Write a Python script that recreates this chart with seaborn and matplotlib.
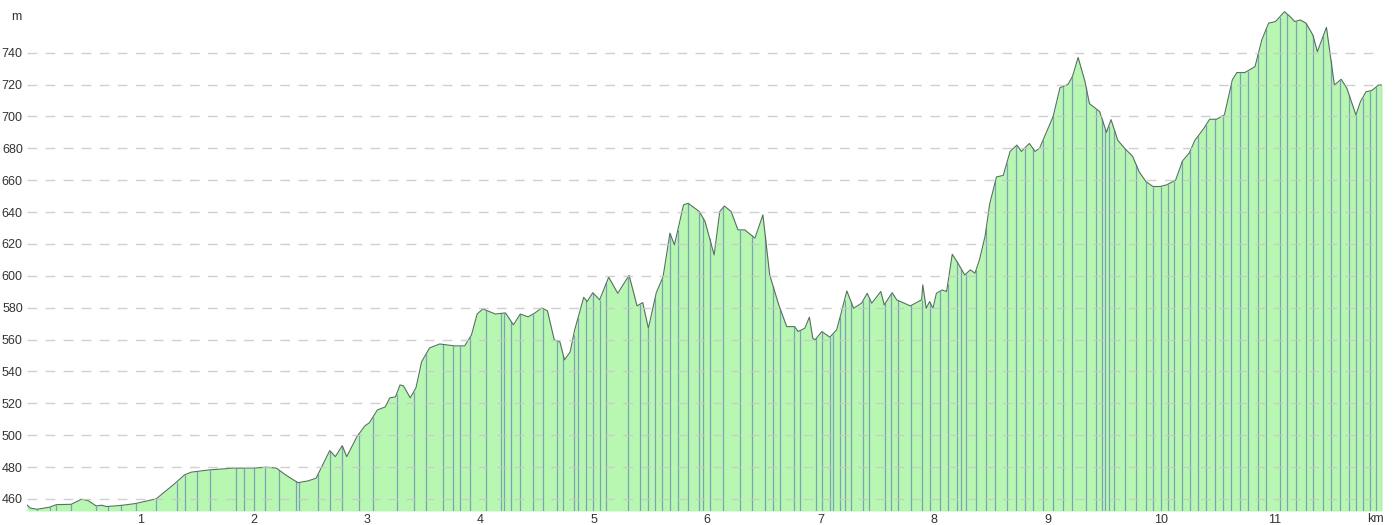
import numpy as np
import matplotlib
matplotlib.use("Agg")
import matplotlib.pyplot as plt
import seaborn as sns

# elevation profile: distance (km) and height (m)
dist_km = [0.00, 0.03, 0.09, 0.20, 0.26, 0.39, 0.48, 0.54, 0.61, 0.66, 0.70, 0.78, 0.84, 0.95,
           1.06, 1.14, 1.20, 1.29, 1.39, 1.45, 1.61, 1.82, 2.00, 2.11, 2.20, 2.28, 2.35, 2.39,
           2.48, 2.55, 2.63, 2.67, 2.72, 2.78, 2.82, 2.91, 2.98, 3.02, 3.09, 3.16, 3.20, 3.25,
           3.29, 3.32, 3.38, 3.43, 3.48, 3.55, 3.64, 3.77, 3.86, 3.92, 3.97, 4.02, 4.13, 4.22,
           4.29, 4.35, 4.42, 4.48, 4.54, 4.59, 4.65, 4.70, 4.74, 4.79, 4.83, 4.91, 4.94, 4.99,
           5.05, 5.13, 5.21, 5.31, 5.38, 5.43, 5.48, 5.55, 5.61, 5.67, 5.71, 5.79, 5.83, 5.93,
           5.98, 6.06, 6.11, 6.15, 6.21, 6.27, 6.33, 6.42, 6.49, 6.55, 6.63, 6.70, 6.77, 6.80,
           6.86, 6.90, 6.93, 6.95, 7.01, 7.08, 7.14, 7.18, 7.23, 7.29, 7.36, 7.41, 7.45, 7.53,
           7.56, 7.63, 7.67, 7.79, 7.89, 7.90, 7.93, 7.96, 7.99, 8.02, 8.07, 8.11, 8.16, 8.21,
           8.27, 8.32, 8.36, 8.40, 8.45, 8.49, 8.55, 8.61, 8.67, 8.73, 8.77, 8.84, 8.89, 8.93,
           8.99, 9.05, 9.11, 9.18, 9.22, 9.27, 9.33, 9.37, 9.46, 9.52, 9.56, 9.62, 9.68, 9.75,
           9.81, 9.87, 9.93, 9.99, 10.05, 10.13, 10.19, 10.25, 10.30, 10.38, 10.43, 10.49, 10.56,
           10.63, 10.67, 10.74, 10.83, 10.89, 10.95, 11.01, 11.09, 11.14, 11.18, 11.23, 11.28,
           11.34, 11.38, 11.46, 11.53, 11.59, 11.64, 11.72, 11.76, 11.81, 11.86, 11.92, 11.95]
elev_m = [456.2, 454.2, 453.5, 454.8, 456.4, 456.6, 459.8, 458.9, 455.6, 456.0, 455.2, 455.6, 456.0, 457.0,
          458.7, 460.0, 463.6, 468.8, 475.1, 476.8, 478.2, 479.3, 479.3, 479.9, 479.3, 475.1, 471.9, 470.2,
          471.3, 473.0, 484.5, 490.3, 486.5, 493.4, 486.5, 499.1, 505.8, 507.8, 515.8, 517.7, 523.4, 524.0,
          531.5, 530.9, 523.4, 529.6, 546.0, 554.7, 557.2, 556.0, 556.0, 562.9, 576.0, 579.2, 576.0, 576.7,
          569.2, 576.0, 574.2, 576.7, 579.8, 578.0, 559.8, 558.5, 547.2, 552.2, 566.0, 586.5, 583.8, 589.4,
          584.9, 599.1, 589.0, 600.3, 581.1, 583.2, 567.1, 589.4, 599.5, 626.7, 619.4, 644.5, 645.5, 640.3,
          634.0, 613.1, 640.3, 643.8, 640.3, 628.8, 628.8, 623.6, 638.2, 600.5, 581.7, 568.1, 568.1, 565.0,
          567.1, 574.0, 560.8, 559.8, 565.0, 561.5, 566.0, 576.5, 590.5, 579.6, 582.8, 589.0, 582.8, 590.1,
          581.7, 589.4, 584.9, 581.1, 584.9, 594.3, 579.6, 583.8, 579.6, 589.0, 591.1, 590.1, 613.5, 607.9,
          600.5, 603.7, 601.6, 610.0, 625.0, 645.0, 662.0, 663.0, 678.0, 682.0, 678.0, 683.0, 678.0, 680.0,
          690.0, 700.0, 718.0, 720.0, 725.0, 737.0, 722.0, 708.0, 703.0, 690.0, 698.0, 685.0, 680.0, 675.0,
          665.0, 659.0, 656.0, 656.0, 657.0, 660.0, 672.0, 677.0, 685.0, 692.6, 698.2, 698.2, 700.9,
          722.9, 727.5, 727.5, 731.2, 748.0, 758.5, 759.5, 765.7, 762.6, 759.5, 760.5, 758.5,
          751.1, 740.6, 755.9, 719.7, 723.3, 717.7, 700.9, 709.3, 715.5, 716.2, 719.7, 719.7]

# positions of the track points marked with thin vertical lines (km)
marker_km = [0.09, 0.20, 0.26, 0.39, 0.61, 0.71, 0.83, 0.96, 1.14, 1.32, 1.39, 1.50, 1.61, 1.84,
             1.91, 2.00, 2.10, 2.22, 2.37, 2.40, 2.57, 2.67, 2.78, 2.93, 3.05, 3.26, 3.41, 3.52,
             3.67, 3.76, 3.82, 3.91, 4.05, 4.18, 4.21, 4.27, 4.35, 4.46, 4.55, 4.67, 4.73, 4.82,
             4.86, 4.93, 4.99, 5.05, 5.11, 5.30, 5.41, 5.48, 5.54, 5.60, 5.67, 5.74, 5.83, 5.93,
             5.96, 6.02, 6.14, 6.29, 6.39, 6.51, 6.58, 6.64, 6.76, 6.82, 6.96, 7.01, 7.08, 7.11,
             7.17, 7.21, 7.27, 7.37, 7.43, 7.57, 7.62, 7.68, 7.80, 7.89, 7.96, 8.05, 8.12, 8.20,
             8.24, 8.28, 8.37, 8.46, 8.54, 8.64, 8.72, 8.80, 8.87, 8.96, 9.05, 9.14, 9.22, 9.34,
             9.43, 9.48, 9.51, 9.54, 9.59, 9.68, 9.78, 9.87, 9.93, 10.00, 10.06, 10.12, 10.19,
             10.26, 10.33, 10.40, 10.48, 10.55, 10.62, 10.70, 10.77, 10.86, 10.93, 11.05, 11.11,
             11.19, 11.28, 11.34, 11.43, 11.50, 11.58, 11.66, 11.72, 11.78, 11.84, 11.90]

x_ticks = [1, 2, 3, 4, 5, 6, 7, 8, 9, 10, 11]
y_ticks = [460, 480, 500, 520, 540, 560, 580, 600, 620, 640, 660, 680, 700, 720, 740]

sns.set_theme(style="white")
plt.rcParams['font.family'] = ['Liberation Sans', 'DejaVu Sans']

fig = plt.figure(figsize=(13.93, 5.25), dpi=100)
ax = fig.add_axes([27 / 1393, 14 / 525, 1355 / 1393, 506 / 525])

y_min, y_max = 452.4, 769.9
ax.fill_between(dist_km, y_min, elev_m, color="#b8f7b2", linewidth=0, zorder=1)

# thin vertical lines from the base up to the profile
tops = np.interp(marker_km, dist_km, elev_m)
ax.vlines(marker_km, y_min, tops, color="#7094b4", linewidth=0.9, alpha=0.85, zorder=2)
ax.vlines([dist_km[-1]], y_min, elev_m[-1], color="#b0aab8", linewidth=1.0, zorder=2)

sns.lineplot(x=dist_km, y=elev_m, ax=ax, color="#56705f", linewidth=0.8, zorder=3,
             estimator=None, sort=False)

for yv in y_ticks:
    ax.axhline(yv, color="#c8c8c8", linewidth=1.0, linestyle=(0, (7, 6)), zorder=4, alpha=0.85)

ax.set_xlim(0, dist_km[-1])
ax.set_ylim(y_min, y_max)
ax.set_xticks(x_ticks)
ax.set_xticklabels([str(v) for v in x_ticks])
ax.set_yticks(y_ticks)
ax.set_yticklabels([str(v) for v in y_ticks])
ax.tick_params(axis="x", length=2, width=0.8, color="#aaaaaa", pad=0.5, labelsize=9, labelcolor="#333333")
ax.tick_params(axis="y", length=0, pad=3, labelsize=9, labelcolor="#333333")
ax.set_xlabel("")
ax.set_ylabel("")
for s in ax.spines.values():
    s.set_visible(False)

fig.text(16 / 1393, 1 - 17 / 525, "m", fontsize=9, color="#333333", ha="center", va="center")
fig.text(1375 / 1393, 1 - 519 / 525, "km", fontsize=9, color="#333333", ha="center", va="center")

fig.savefig("out.png", dpi=100)
